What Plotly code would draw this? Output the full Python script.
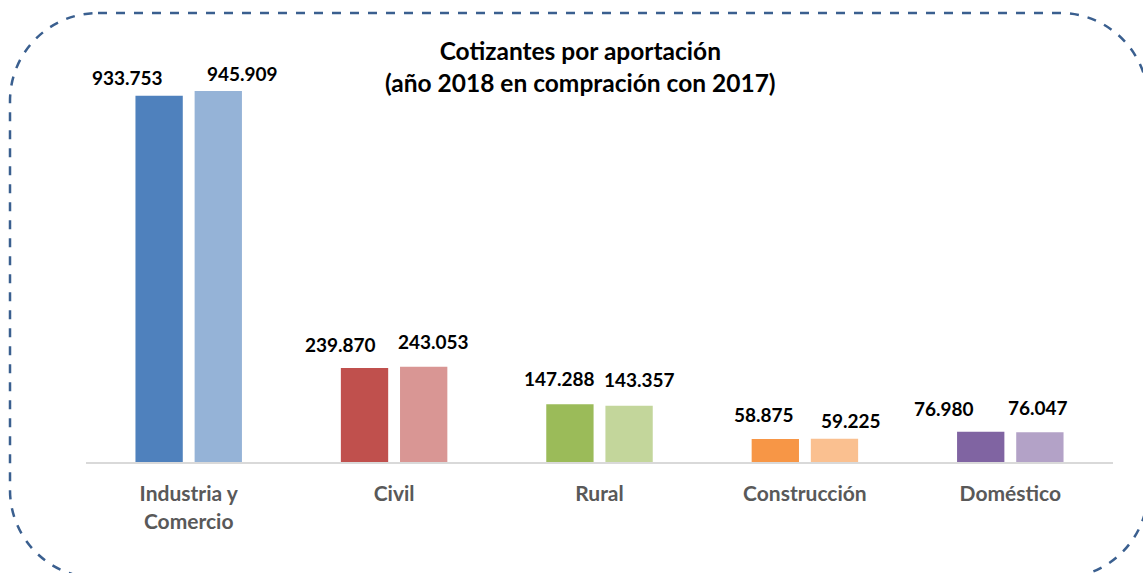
import plotly.graph_objects as go

# datos
categorias = ["Industria y<br>Comercio", "Civil", "Rural", "Construcción", "Doméstico"]
valores_2017 = [933753, 239870, 147288, 58875, 76980]
valores_2018 = [945909, 243053, 143357, 59225, 76047]
colores_2017 = ["#4F81BD", "#C0504D", "#9BBB59", "#F79646", "#8064A2"]
colores_2018 = ["#95B3D7", "#D99694", "#C3D69B", "#FAC090", "#B3A2C7"]

# desplazamiento de etiquetas (px), como en el original
dx_2017 = [-61, -54, -40, -41, -66]
dx_2018 = [54, 39, 40, 46, 28]
dy_2017 = [5, 10, 12, 11, 10]
dy_2018 = [4, 12, 13, 5, 11]

W, H = 1143, 573
L, R, T, B = 86, 30, 60, 111
pw, ph = W - L - R, H - T - B


def px_x(x):
    return (x - L) / pw


def px_y(y):
    return (H - B - y) / ph


fig = go.Figure()
for vals, cols, nombre in [(valores_2017, colores_2017, "2017"),
                           (valores_2018, colores_2018, "2018")]:
    fig.add_trace(go.Bar(x=categorias, y=vals, name=nombre,
                         marker=dict(color=cols, line_width=0)))

# etiquetas de datos
for vals, dxs, dys in [(valores_2017, dx_2017, dy_2017),
                       (valores_2018, dx_2018, dy_2018)]:
    for c, v, dx, dy in zip(categorias, vals, dxs, dys):
        txt = f"{v:,}".replace(",", ".")
        fig.add_annotation(x=c, y=v, text=f"<b>{txt}</b>", showarrow=False,
                           xanchor="center", yanchor="bottom",
                           xshift=dx, yshift=dy,
                           font=dict(family="Lato", size=19, color="black"))

# marco punteado redondeado
x0, y0, x1, y1, r = 10, 13, 1148, 578, 88
k = r * 0.5523
pts = [
    ("M", [(x0 + r, y0)]),
    ("L", [(x1 - r, y0)]),
    ("C", [(x1 - r + k, y0), (x1, y0 + r - k), (x1, y0 + r)]),
    ("L", [(x1, y1 - r)]),
    ("C", [(x1, y1 - r + k), (x1 - r + k, y1), (x1 - r, y1)]),
    ("L", [(x0 + r, y1)]),
    ("C", [(x0 + r - k, y1), (x0, y1 - r + k), (x0, y1 - r)]),
    ("L", [(x0, y0 + r)]),
    ("C", [(x0, y0 + r - k), (x0 + r - k, y0), (x0 + r, y0)]),
]
path = ""
for cmd, pp in pts:
    path += cmd + " ".join(f"{px_x(a):.5f},{px_y(b):.5f}" for a, b in pp) + " "
path += "Z"
fig.add_shape(type="path", path=path, xref="paper", yref="paper",
              line=dict(color="#3A5F8F", width=2.5, dash="dash"))

fig.add_annotation(text="<b>Cotizantes por aportación<br>(año 2018 en compración con 2017)</b>",
                   xref="paper", yref="paper", x=px_x(580), y=px_y(34),
                   xanchor="center", yanchor="top", showarrow=False,
                   font=dict(family="Lato", size=24.5, color="black"))

fig.update_layout(
    width=W, height=H,
    margin=dict(l=L, r=R, t=T, b=B),
    plot_bgcolor="white", paper_bgcolor="white",
    barmode="group", bargap=0.424, bargroupgap=0.2,
    showlegend=False,
    xaxis=dict(showline=True, linecolor="#D9D9D9", linewidth=2, ticks="",
               tickfont=dict(family="Lato", size=21, color="#595959", weight="bold"),
               ticklabelstandoff=12),
    yaxis=dict(visible=False, range=[0, 945909 * ph / 371]),
)

fig.write_html("out.html", config={"displayModeBar": False},
               post_script="document.body.style.margin='0';")
